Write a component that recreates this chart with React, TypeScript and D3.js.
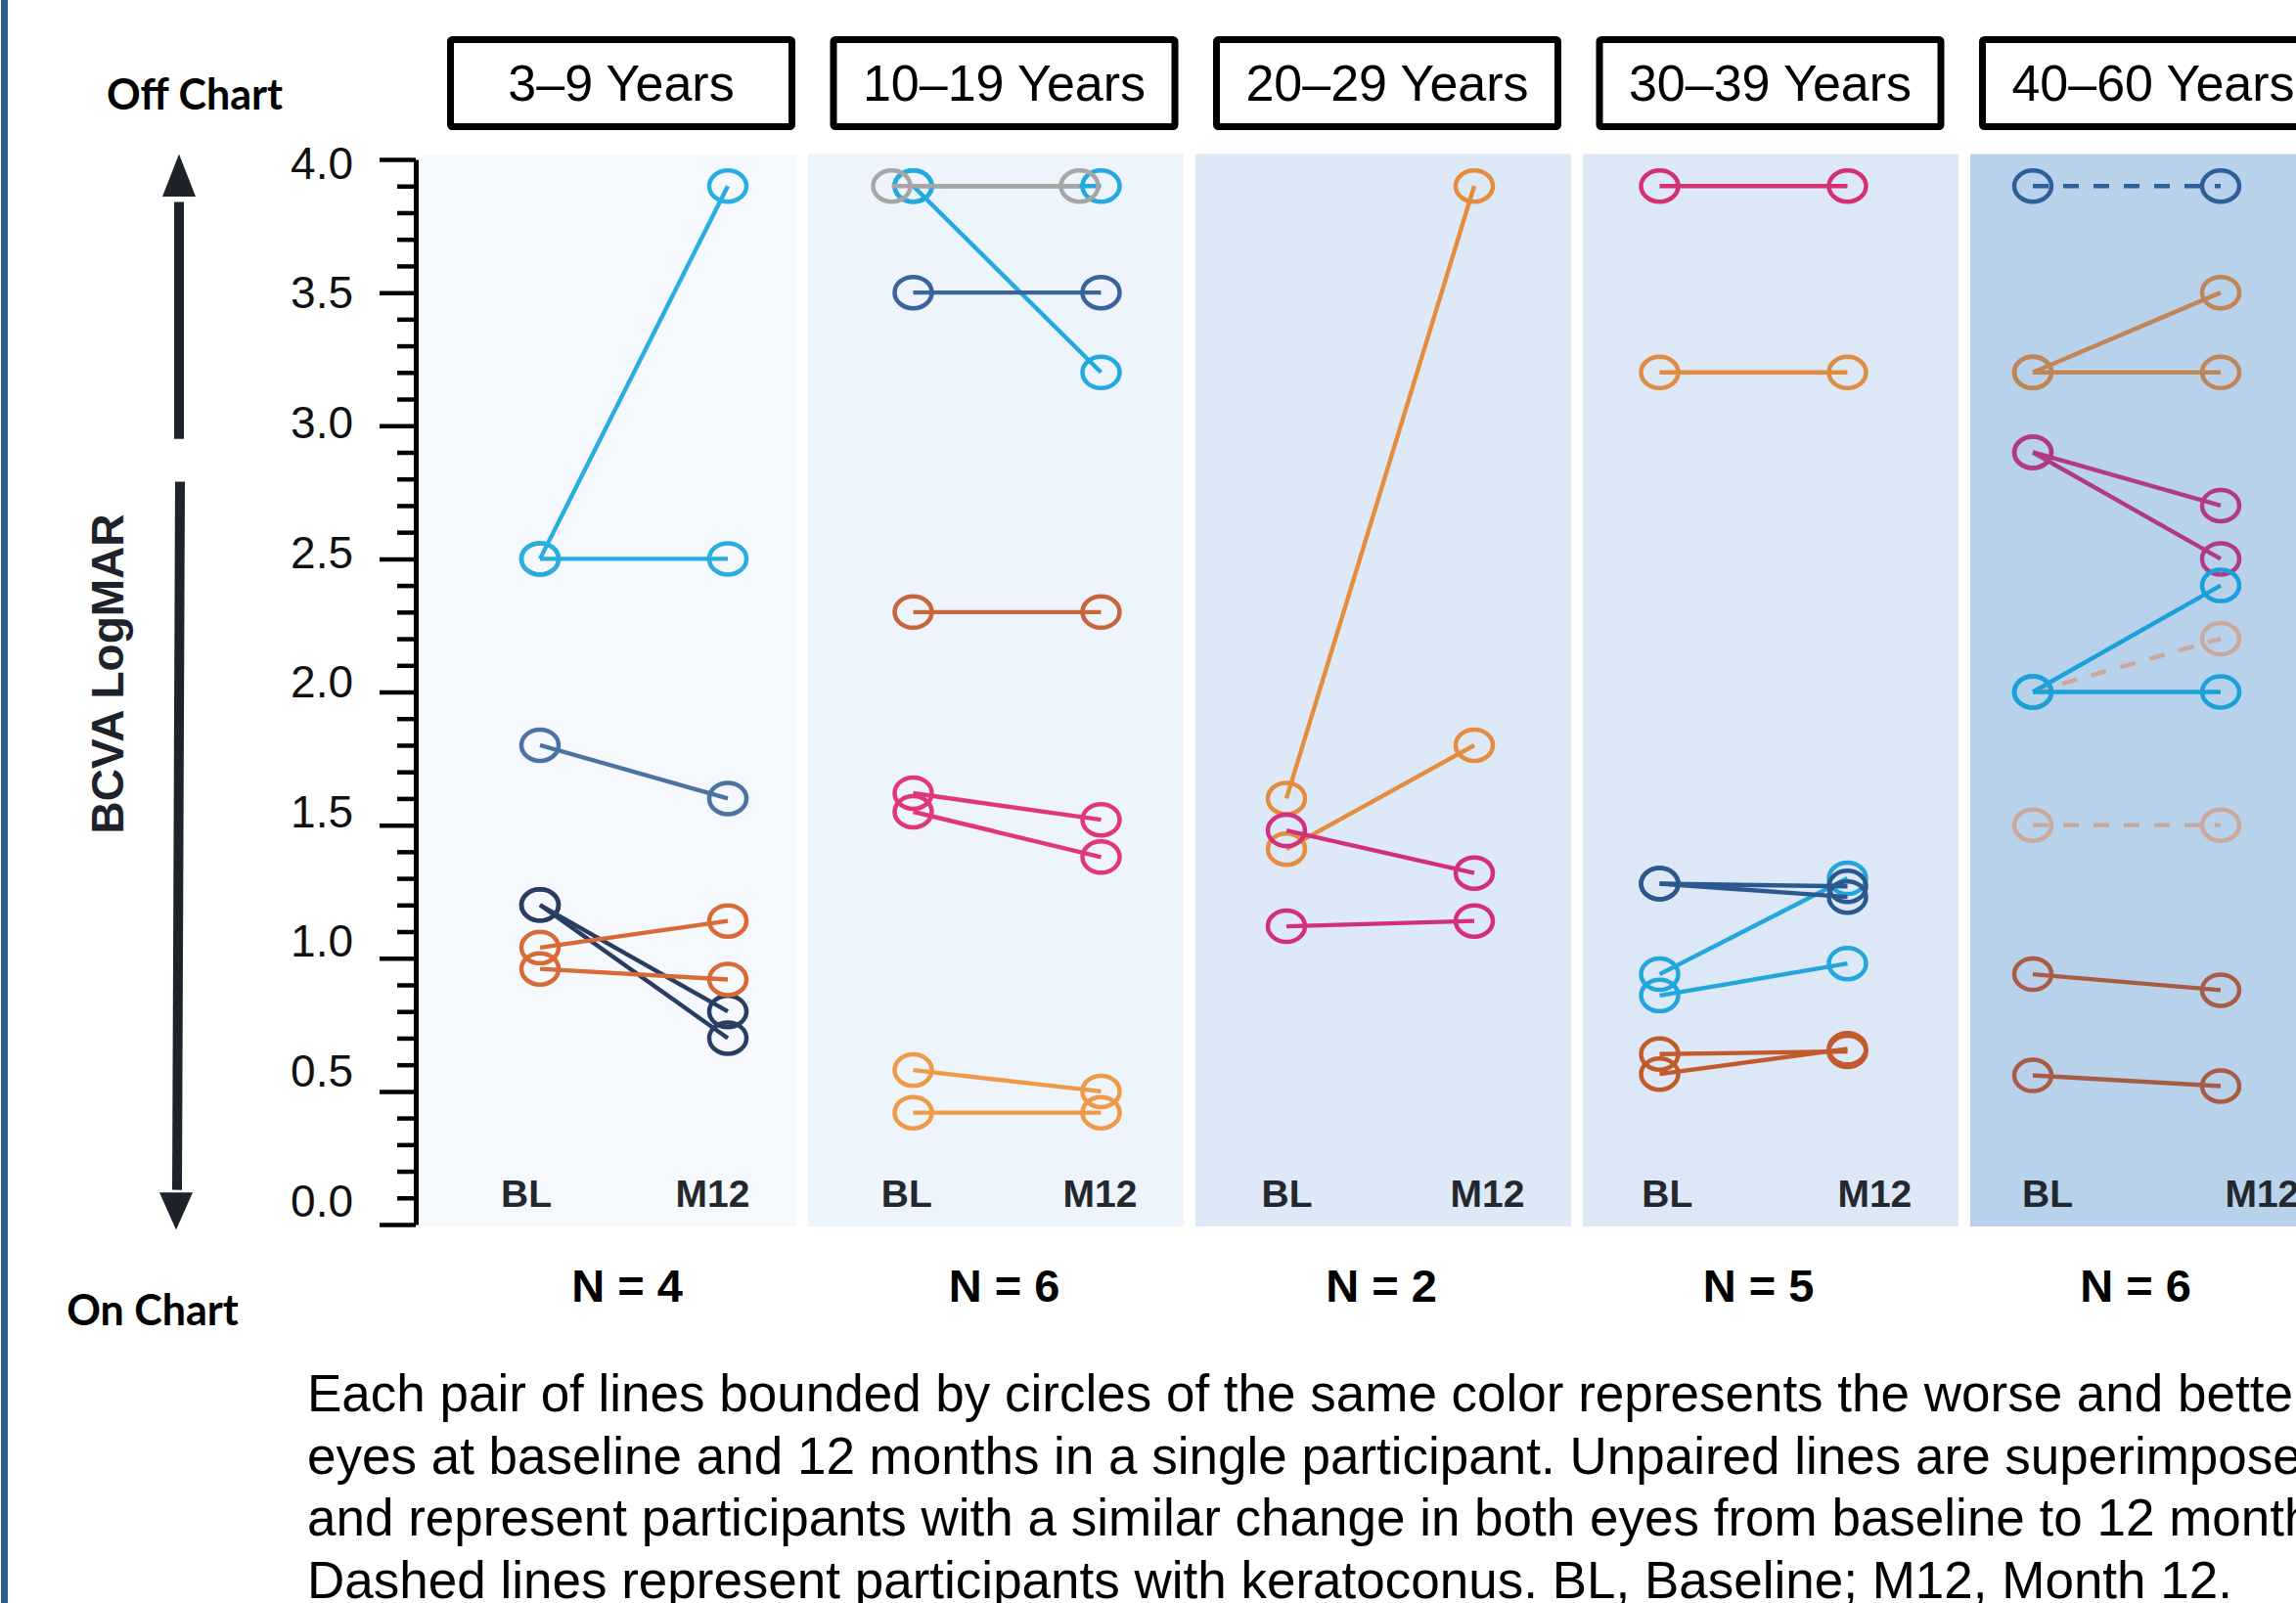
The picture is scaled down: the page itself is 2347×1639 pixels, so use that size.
import React, { useEffect, useRef } from "react";
import * as d3 from "d3";

const groups = ["3–9 Years", "10–19 Years", "20–29 Years", "30–39 Years", "40–60 Years"];
const groupN = [4, 6, 2, 5, 6];
const times = ["BL", "M12"];
const yMajorTicks = [0, 0.5, 1.0, 1.5, 2.0, 2.5, 3.0, 3.5, 4.0];

// one entry per eye: participant id, BCVA at baseline, BCVA at month 12
const eyes3to9 = [
  { p: "A", bl: 2.5, m12: 3.9 },
  { p: "A", bl: 2.5, m12: 2.5 },
  { p: "B", bl: 1.8, m12: 1.6 },
  { p: "C", bl: 1.2, m12: 0.8 },
  { p: "C", bl: 1.2, m12: 0.7 },
  { p: "D", bl: 1.04, m12: 1.14 },
  { p: "D", bl: 0.96, m12: 0.92 },
];
const eyes10to19 = [
  { p: "A", bl: 3.9, m12: 3.9 },
  { p: "A", bl: 3.9, m12: 3.2 },
  { p: "B", bl: 3.9, m12: 3.9 },
  { p: "C", bl: 3.5, m12: 3.5 },
  { p: "D", bl: 2.3, m12: 2.3 },
  { p: "E", bl: 1.62, m12: 1.52 },
  { p: "E", bl: 1.55, m12: 1.38 },
  { p: "F", bl: 0.58, m12: 0.5 },
  { p: "F", bl: 0.42, m12: 0.42 },
];
const eyes20to29 = [
  { p: "A", bl: 1.6, m12: 3.9 },
  { p: "A", bl: 1.41, m12: 1.8 },
  { p: "B", bl: 1.48, m12: 1.32 },
  { p: "B", bl: 1.12, m12: 1.14 },
];
const eyes30to39 = [
  { p: "A", bl: 3.9, m12: 3.9 },
  { p: "B", bl: 3.2, m12: 3.2 },
  { p: "D", bl: 0.94, m12: 1.3 },
  { p: "D", bl: 0.86, m12: 0.98 },
  { p: "C", bl: 1.28, m12: 1.27 },
  { p: "C", bl: 1.28, m12: 1.23 },
  { p: "E", bl: 0.64, m12: 0.65 },
  { p: "E", bl: 0.565, m12: 0.66 },
];
const eyes40to60 = [
  { p: "A", bl: 3.9, m12: 3.9 },
  { p: "B", bl: 3.2, m12: 3.5 },
  { p: "B", bl: 3.2, m12: 3.2 },
  { p: "C", bl: 2.9, m12: 2.7 },
  { p: "C", bl: 2.9, m12: 2.5 },
  { p: "D", bl: 2.0, m12: 2.2 },
  { p: "D", bl: 1.5, m12: 1.5 },
  { p: "E", bl: 2.0, m12: 2.4 },
  { p: "E", bl: 2.0, m12: 2.0 },
  { p: "F", bl: 0.94, m12: 0.88 },
  { p: "F", bl: 0.56, m12: 0.52 },
];
const eyesByGroup = [eyes3to9, eyes10to19, eyes20to29, eyes30to39, eyes40to60];

// participants with keratoconus (drawn dashed)
const keratoconus = ["40–60 Years:A", "40–60 Years:D"];

const captionLines = [
  "Each pair of lines bounded by circles of the same color represents the worse and better",
  "eyes at baseline and 12 months in a single participant. Unpaired lines are superimposed",
  "and represent participants with a similar change in both eyes from baseline to 12 months.",
  "Dashed lines represent participants with keratoconus. BL, Baseline; M12, Month 12.",
];

// styles
const panelFill = ["#f5f9fe", "#eef4fb", "#dde9f7", "#dce8f6", "#b9d2ec"];
const participantColor: Record<string, string> = {
  "3–9 Years:A": "#2aaee0",
  "3–9 Years:B": "#4a73a4",
  "3–9 Years:C": "#283d61",
  "3–9 Years:D": "#d86a36",
  "10–19 Years:A": "#22aadf",
  "10–19 Years:B": "#a6a6a6",
  "10–19 Years:C": "#3a659c",
  "10–19 Years:D": "#c8663a",
  "10–19 Years:E": "#e0367c",
  "10–19 Years:F": "#ef9a48",
  "20–29 Years:A": "#e48d3e",
  "20–29 Years:B": "#d42f7c",
  "30–39 Years:A": "#d6306f",
  "30–39 Years:B": "#e08b40",
  "30–39 Years:C": "#2c5890",
  "30–39 Years:D": "#22a6dc",
  "30–39 Years:E": "#c25a2b",
  "40–60 Years:A": "#2e6098",
  "40–60 Years:B": "#c08658",
  "40–60 Years:C": "#b03b84",
  "40–60 Years:D": "#c9a99a",
  "40–60 Years:E": "#1aa1d9",
  "40–60 Years:F": "#a85c46",
};

const W = 2347;
const H = 1639;
const ARIAL = "'Liberation Sans', Arial, sans-serif";

const App: React.FC = () => {
  const ref = useRef<SVGSVGElement>(null);

  useEffect(() => {
    if (!ref.current) return;
    const svg = d3.select(ref.current);
    svg.selectAll("*").remove();

    const y = d3.scaleLinear().domain([0, 4]).range([1252, 163]);
    const panel = d3.scaleBand().domain(groups).range([430, 2398]).paddingInner(0.03);
    const ptGroup = d3.scalePoint().domain(groups).range([552, 2078]);
    const ptTime = d3.scalePoint().domain(times).range([0, 192]);
    const nPos = d3.scalePoint().domain(groups).range([641, 2183]);
    const titlePos = d3.scalePoint().domain(groups).range([635, 2201]);
    const bw = panel.bandwidth();

    svg.append("rect").attr("width", W).attr("height", H).attr("fill", "#fff");
    svg.append("rect").attr("x", 1).attr("y", 0).attr("width", 7).attr("height", H).attr("fill", "#2b5b93");

    // panels
    svg.selectAll("rect.panel")
      .data(groups)
      .enter()
      .append("rect")
      .attr("class", "panel")
      .attr("x", (d) => panel(d) || 0)
      .attr("y", y(4.02))
      .attr("width", bw)
      .attr("height", y(0) + 2 - y(4.02))
      .attr("fill", (d, i) => panelFill[i]);

    // title boxes
    const boxW = 349;
    const titles = svg.selectAll("g.title").data(groups).enter().append("g").attr("class", "title");
    titles.append("rect")
      .attr("x", (d) => (titlePos(d) || 0) - boxW / 2)
      .attr("y", 40.5)
      .attr("width", boxW)
      .attr("height", 89)
      .attr("rx", 2)
      .attr("fill", "#fff")
      .attr("stroke", "#000")
      .attr("stroke-width", 7);
    titles.append("text")
      .attr("x", (d) => titlePos(d) || 0)
      .attr("y", 103)
      .attr("text-anchor", "middle")
      .style("font-family", ARIAL)
      .style("font-size", "52px")
      .attr("fill", "#000")
      .text((d) => d);

    // BL / M12 labels
    groups.forEach((g) => {
      const x0 = panel(g) || 0;
      const blX = ((ptGroup(g) || 0) + (ptTime("BL") || 0) + x0 + bw * 0.245) / 2;
      const m12X = x0 + bw * 0.777;
      [blX, m12X].forEach((lx, j) => {
        svg.append("text")
          .attr("x", lx)
          .attr("y", 1234)
          .attr("text-anchor", "middle")
          .style("font-family", ARIAL)
          .style("font-weight", "bold")
          .style("font-size", "39px")
          .attr("fill", "#23272e")
          .text(times[j]);
      });
    });

    // N labels
    svg.selectAll("text.n")
      .data(groups)
      .enter()
      .append("text")
      .attr("class", "n")
      .attr("x", (d) => nPos(d) || 0)
      .attr("y", 1331)
      .attr("text-anchor", "middle")
      .style("font-family", ARIAL)
      .style("font-weight", "bold")
      .style("font-size", "47px")
      .attr("fill", "#000")
      .text((d, i) => `N = ${groupN[i]}`);

    // lines + circles
    const rx = 19;
    const ry = 16;
    groups.forEach((g, gi) => {
      const eyes = eyesByGroup[gi];
      const gx = ptGroup(g) || 0;
      eyes.forEach((e, k) => {
        const key = `${g}:${e.p}`;
        const color = participantColor[key];
        const dashed = keratoconus.includes(key);
        // superimposed duplicate from another participant: nudge left so both stay visible
        const dup = eyes.slice(0, k).some((o) => o.p !== e.p && o.bl === e.bl && o.m12 === e.m12);
        const nudge = dup ? -22 : 0;
        const x1 = gx + (ptTime("BL") || 0) + nudge;
        const x2 = gx + (ptTime("M12") || 0) + nudge;
        svg.append("line")
          .attr("x1", x1)
          .attr("y1", y(e.bl))
          .attr("x2", x2)
          .attr("y2", y(e.m12))
          .attr("stroke", color)
          .attr("stroke-width", 4.4)
          .attr("stroke-dasharray", dashed ? "16 15" : null);
        [[x1, e.bl], [x2, e.m12]].forEach(([cx, v]) => {
          svg.append("ellipse")
            .attr("cx", cx)
            .attr("cy", y(v))
            .attr("rx", rx)
            .attr("ry", ry)
            .attr("fill", "none")
            .attr("stroke", color)
            .attr("stroke-width", 4.5);
        });
      });
    });

    // y axis
    const axisG = svg.append("g").attr("transform", "translate(425,0)");
    const minor = d3.range(1, 41).map((d) => d / 10).filter((d) => Math.round(d * 10) % 5 !== 0);
    const minorG = axisG.append("g").call(
      d3.axisLeft(y).tickValues(minor).tickSize(19).tickSizeOuter(0).tickFormat(() => "")
    );
    minorG.select(".domain").remove();
    minorG.selectAll("line").attr("stroke", "#000").attr("stroke-width", 4.5);

    const majorG = axisG.append("g").call(
      d3.axisLeft(y).tickValues(yMajorTicks).tickSize(37).tickSizeOuter(0).tickPadding(27).tickFormat(d3.format(".1f"))
    );
    majorG.select(".domain").attr("stroke", "#000").attr("stroke-width", 5);
    majorG.selectAll("line").attr("stroke", "#000").attr("stroke-width", 4.5);
    // the printed labels sit a little off their ticks, drifting upward toward 0
    majorG.selectAll<SVGTextElement, number>("text")
      .style("font-family", ARIAL)
      .style("font-size", "46px")
      .attr("fill", "#111")
      .attr("transform", (v) => `translate(0,${4.5 - (4 - v) * 7})`);
    majorG.attr("font-size", null).attr("font-family", null);

    // on/off chart arrows
    const arrowColor = "#1e232b";
    svg.append("line")
      .attr("x1", 183).attr("y1", y(3.84)).attr("x2", 183).attr("y2", y(2.95))
      .attr("stroke", arrowColor).attr("stroke-width", 10);
    svg.append("path")
      .attr("d", `M183,${y(4.02)} L200,${y(3.86)} L166,${y(3.86)} Z`)
      .attr("fill", arrowColor);
    svg.append("line")
      .attr("x1", 184).attr("y1", y(2.79)).attr("x2", 181).attr("y2", y(0.13))
      .attr("stroke", arrowColor).attr("stroke-width", 10);
    svg.append("path")
      .attr("d", `M180,${y(-0.02)} L163,${y(0.12)} L197,${y(0.12)} Z`)
      .attr("fill", arrowColor);

    svg.append("text")
      .attr("transform", "translate(126,689) rotate(-90)")
      .attr("text-anchor", "middle")
      .style("font-family", ARIAL)
      .style("font-weight", "bold")
      .style("font-size", "46px")
      .attr("fill", arrowColor)
      .text("BCVA LogMAR");

    svg.append("text")
      .attr("x", 199).attr("y", 112)
      .attr("text-anchor", "middle")
      .style("font-family", "Lato, 'Open Sans', sans-serif")
      .style("font-weight", "bold")
      .style("font-size", "43px")
      .attr("fill", "#000")
      .text("Off Chart");
    svg.append("text")
      .attr("x", 156).attr("y", 1355)
      .attr("text-anchor", "middle")
      .style("font-family", "Lato, 'Open Sans', sans-serif")
      .style("font-weight", "bold")
      .style("font-size", "43px")
      .attr("fill", "#000")
      .text("On Chart");

    // caption (runs past the right edge, as in the source figure)
    svg.selectAll("text.caption")
      .data(captionLines)
      .enter()
      .append("text")
      .attr("class", "caption")
      .attr("x", 314)
      .attr("y", (d, i) => 1443 + i * 63.7)
      .style("font-family", ARIAL)
      .style("font-size", "53px")
      .attr("fill", "#000")
      .text((d) => d);
  }, []);

  return (
    <svg
      ref={ref}
      width={W}
      height={H}
      style={{ position: "absolute", left: 0, top: 0, display: "block" }}
    />
  );
};

export default App;
